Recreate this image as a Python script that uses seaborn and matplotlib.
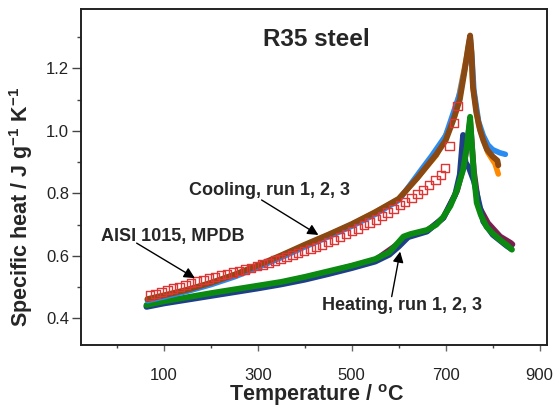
import numpy as np
import pandas as pd
import matplotlib
matplotlib.use("Agg")
import matplotlib.pyplot as plt
import seaborn as sns

# ---------------- data ----------------
# Cooling runs
cool_brown_T = [65, 100, 150, 200, 250, 300, 350, 400, 450, 500, 550, 600, 640, 680, 700, 715,
                730, 740, 748, 752, 755, 758, 765, 773, 780, 788, 800, 810, 812]
cool_brown_cp = [0.462, 0.474, 0.492, 0.514, 0.540, 0.570, 0.602, 0.636, 0.668, 0.702, 0.740, 0.783,
                 0.850, 0.925, 0.970, 1.030, 1.100, 1.190, 1.270, 1.305, 1.250, 1.140, 1.060, 1.003,
                 0.970, 0.940, 0.918, 0.905, 0.890]
cool_blue_T = [65, 100, 150, 200, 250, 300, 350, 400, 450, 500, 550, 600, 650, 670, 700, 730, 745,
               752, 756, 760, 770, 780, 790, 800, 815, 827]
cool_blue_cp = [0.457, 0.469, 0.487, 0.508, 0.533, 0.563, 0.595, 0.629, 0.661, 0.695, 0.733, 0.778,
                0.880, 0.920, 0.985, 1.120, 1.230, 1.300, 1.230, 1.130, 1.030, 0.985, 0.955, 0.940,
                0.930, 0.925]
cool_orange_T = [65, 100, 200, 300, 400, 500, 600, 680, 720, 745, 752, 758, 770, 790, 805, 812]
cool_orange_cp = [0.460, 0.472, 0.512, 0.568, 0.634, 0.700, 0.781, 0.922, 1.050, 1.240, 1.300, 1.140,
                  1.020, 0.930, 0.895, 0.862]

# Heating runs
heat_green_T = [63, 100, 150, 200, 250, 300, 350, 400, 450, 500, 550, 580, 600, 610, 625, 660, 680,
                695, 710, 724, 737, 745, 752, 756, 760, 766, 775, 787, 800, 816, 830, 841]
heat_green_cp = [0.443, 0.455, 0.468, 0.481, 0.493, 0.505, 0.517, 0.533, 0.551, 0.569, 0.590, 0.612,
                 0.645, 0.662, 0.670, 0.683, 0.700, 0.725, 0.760, 0.811, 0.875, 0.950, 1.045, 0.950,
                 0.860, 0.770, 0.730, 0.693, 0.672, 0.651, 0.635, 0.620]
heat_navy_T = [63, 100, 150, 200, 250, 300, 350, 400, 450, 500, 550, 580, 600, 620, 660, 695, 720,
               730, 737, 742, 750, 760, 780, 800, 830, 840]
heat_navy_cp = [0.437, 0.448, 0.460, 0.472, 0.484, 0.496, 0.509, 0.524, 0.542, 0.561, 0.582, 0.604,
                0.630, 0.660, 0.678, 0.722, 0.795, 0.860, 0.987, 0.900, 0.880, 0.840, 0.710, 0.668,
                0.632, 0.622]
heat_maroon_T = [63, 150, 250, 350, 450, 550, 600, 625, 660, 695, 724, 740, 752, 760, 770, 790,
                 816, 838, 842]
heat_maroon_cp = [0.440, 0.465, 0.490, 0.514, 0.548, 0.587, 0.640, 0.667, 0.680, 0.722, 0.808,
                  0.900, 1.030, 0.870, 0.760, 0.705, 0.662, 0.642, 0.637]

# AISI 1015 (MPDB) reference values
mpdb_T = [70, 82, 95, 108, 120, 133, 146, 158, 171, 184, 196, 209, 222, 234, 247, 260, 272, 285,
          298, 310, 323, 336, 348, 361, 374, 386, 399, 412, 424, 437, 450, 462, 475, 488, 500, 513,
          526, 538, 551, 564, 576, 589, 602, 614, 627, 640, 652, 665, 678, 690, 699, 708, 718, 725]
mpdb_cp = [0.473, 0.479, 0.484, 0.490, 0.496, 0.501, 0.507, 0.513, 0.518, 0.523, 0.528, 0.533,
           0.538, 0.542, 0.547, 0.552, 0.557, 0.562, 0.568, 0.573, 0.578, 0.585, 0.591, 0.597,
           0.603, 0.609, 0.615, 0.622, 0.629, 0.636, 0.644, 0.652, 0.661, 0.670, 0.679, 0.688,
           0.698, 0.707, 0.717, 0.728, 0.739, 0.750, 0.762, 0.773, 0.786, 0.799, 0.811, 0.826,
           0.842, 0.858, 0.881, 0.952, 1.026, 1.080]

x_major = [100, 300, 500, 700, 900]
x_minor = [0, 200, 400, 600, 800]
y_major = [0.4, 0.6, 0.8, 1.0, 1.2]
y_minor = [0.5, 0.7, 0.9, 1.1, 1.3]

# ---------------- style ----------------
sns.set_style("ticks")
plt.rcParams["font.family"] = ["Liberation Sans", "DejaVu Sans"]
plt.rcParams["mathtext.fontset"] = "custom"
plt.rcParams["mathtext.rm"] = "Liberation Sans:bold"
plt.rcParams["mathtext.bf"] = "Liberation Sans:bold"
plt.rcParams["mathtext.default"] = "rm"

fig = plt.figure(figsize=(5.53, 4.07), dpi=100)
ax = fig.add_axes([0.146, 0.153, 0.8426, 0.825])


def draw(T, cp, color, lw):
    df = pd.DataFrame({"T": T, "cp": cp})
    sns.lineplot(data=df, x="T", y="cp", sort=False, estimator=None, color=color, lw=lw,
                 solid_capstyle="round", solid_joinstyle="round", ax=ax)


# heating runs
draw(heat_maroon_T, heat_maroon_cp, "#7a1f50", 4.2)
draw(heat_navy_T, heat_navy_cp, "#1f3f88", 4.2)
draw(heat_green_T, heat_green_cp, "#0b8a12", 4.2)
# cooling runs
draw(cool_orange_T, cool_orange_cp, "#ff8a00", 4.0)
draw(cool_blue_T, cool_blue_cp, "#2a8cf0", 4.0)
draw(cool_brown_T, cool_brown_cp, "#8a4812", 4.2)

# MPDB squares
mp = pd.DataFrame({"T": mpdb_T, "cp": mpdb_cp})
sns.scatterplot(data=mp, x="T", y="cp", marker="s", s=36, facecolors="none",
                edgecolor="#e03535", linewidth=1.0, ax=ax, zorder=5)

ax.set_xlim(-77, 915)
ax.set_ylim(0.316, 1.39)
ax.set_xticks(x_major)
ax.set_xticks(x_minor, minor=True)
ax.set_yticks(y_major)
ax.set_yticks(y_minor, minor=True)
ax.set_xticklabels([str(v) for v in x_major])
ax.set_yticklabels([f"{v:.1f}" for v in y_major])
ax.tick_params(axis="x", which="major", direction="out", length=4.5, width=1, color="#666",
               labelsize=12, labelcolor="#222", pad=12)
ax.tick_params(axis="x", which="minor", direction="out", length=2.5, width=1, color="#444")
ax.tick_params(axis="y", which="major", direction="out", length=6.5, width=1, color="#444",
               labelsize=12, labelcolor="#222", pad=2)
ax.tick_params(axis="y", which="minor", direction="out", length=3, width=1, color="#444")
for sp in ax.spines.values():
    sp.set_linewidth(1.4)
    sp.set_color("#222")

ax.set_xlabel(r"Temperature / $\mathrm{^{o}}$C", fontsize=15.5, fontweight="bold")
ax.set_ylabel(r"Specific heat / J g$^{-1}$ K$^{-1}$", fontsize=15.5, fontweight="bold")
ax.xaxis.set_label_coords(0.506, -0.112)
ax.yaxis.set_label_coords(-0.098, 0.41)

ax.text(0.506, 0.908, "R35 steel", transform=ax.transAxes, ha="center", va="center",
        fontsize=17.5, fontweight="bold")

arrow = dict(arrowstyle="-|>", color="black", lw=1.0, mutation_scale=16, shrinkA=0, shrinkB=0)
ax.text(119, 0.661, "AISI 1015, MPDB", ha="center", va="center", fontsize=13, fontweight="bold")
ax.annotate("", xy=(166, 0.529), xytext=(42, 0.641), arrowprops=arrow, zorder=6)
ax.text(324, 0.808, "Cooling, run 1, 2, 3", ha="center", va="center", fontsize=13,
        fontweight="bold")
ax.annotate("", xy=(429, 0.667), xytext=(308, 0.779), arrowprops=arrow, zorder=6)
ax.text(606, 0.443, "Heating, run 1, 2, 3", ha="center", va="center", fontsize=13,
        fontweight="bold")
ax.annotate("", xy=(603, 0.614), xytext=(585, 0.47), arrowprops=arrow, zorder=6)

fig.savefig("out.png", dpi=100)
